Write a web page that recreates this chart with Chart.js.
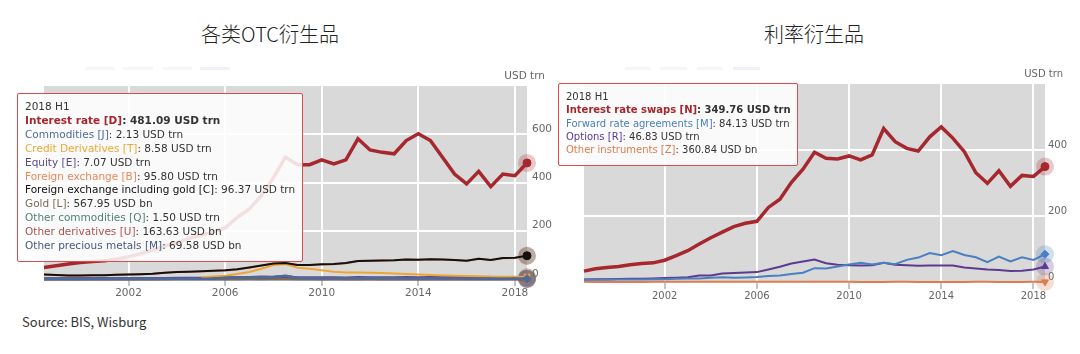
<!DOCTYPE html>
<html>
<head>
<meta charset="utf-8">
<script src="https://cdn.jsdelivr.net/npm/chart.js"></script>
<style>
    body { margin: 0; width: 1080px; height: 354px; background: #fff; position: relative; overflow: hidden; font-family: "DejaVu Sans", sans-serif; }
    canvas { position: absolute; top: 0; }
    .title { position: absolute; top: 20px; font-family: "Noto Sans CJK SC", sans-serif; font-weight: 300; font-size: 20px; line-height: 28px; color: #222; text-align: center; }
    .tip { position: absolute; background: rgba(255, 255, 255, 0.86); border: 1.5px solid #dc4c4c; border-radius: 2px; white-space: nowrap; color: #333; }
    .bar { position: absolute; top: 67px; height: 3px; background: #f6f6f6; }
    .source { position: absolute; left: 22px; top: 312px; font-family: "Noto Sans CJK SC", sans-serif; font-size: 13px; color: #333; }
</style>
</head>
<body>
<div class="title" style="left:0;width:540px">各类OTC衍生品</div>
<div class="title" style="left:548px;width:532px">利率衍生品</div>

<div class="bar" style="left:85px;width:30px"></div>
<div class="bar" style="left:123px;width:30px"></div>
<div class="bar" style="left:163px;width:29px"></div>
<div class="bar" style="left:200px;width:30px;background:#eef1f7"></div>
<div class="bar" style="left:625px;width:26px"></div>
<div class="bar" style="left:660px;width:27px"></div>
<div class="bar" style="left:697px;width:26px"></div>
<div class="bar" style="left:733px;width:27px;background:#eef1f7"></div>

<canvas id="otc-chart" width="560" height="310" style="left:0;width:560px;height:310px"></canvas>
<canvas id="ir-chart" width="540" height="310" style="left:540px;width:540px;height:310px"></canvas>

<div id="otc-tip" class="tip" style="left:17px;top:93px;font-size:10.5px;line-height:13.9px;padding:6px 7px 8px 7px"></div>
<div id="ir-tip" class="tip" style="left:558px;top:83px;font-size:10px;line-height:13.3px;padding:6px 6px 9px 7px"></div>

<div class="source">Source: BIS, Wisburg</div>

<script>
// PERIODS AND AXIS TICKS
// ---------------------------------------------------
const periods = [ '1998 H1', '1998 H2', '1999 H1', '1999 H2', '2000 H1', '2000 H2', '2001 H1', '2001 H2',
    '2002 H1', '2002 H2', '2003 H1', '2003 H2', '2004 H1', '2004 H2', '2005 H1', '2005 H2',
    '2006 H1', '2006 H2', '2007 H1', '2007 H2', '2008 H1', '2008 H2', '2009 H1', '2009 H2',
    '2010 H1', '2010 H2', '2011 H1', '2011 H2', '2012 H1', '2012 H2', '2013 H1', '2013 H2',
    '2014 H1', '2014 H2', '2015 H1', '2015 H2', '2016 H1', '2016 H2', '2017 H1', '2017 H2', '2018 H1' ];
const yearTicks = [ 2002, 2006, 2010, 2014, 2018 ];
const otcTicks = [ 0, 200, 400, 600 ];
const irTicks = [ 0, 200, 400 ];

// OTC DERIVATIVES (USD trn)
// ---------------------------------------------------
const interestRate = [ 48, 55, 62, 68, 72, 76, 82, 92, 105, 120, 137, 150, 168, 182, 195, 212, 255, 290, 345, 420,
    505, 474, 474, 494, 477, 494, 581, 535, 525, 519, 574, 602, 574, 505, 435, 394, 446, 383, 435, 428, 481.09 ];
const commodities = [ 0.45, 0.4, 0.44, 0.5, 0.6, 0.7, 0.6, 0.6, 0.8, 0.9, 1.0, 1.4, 1.3, 1.4, 2.0, 5.4, 6.4, 7.1, 7.6, 8.5,
    13.2, 4.4, 3.6, 2.9, 2.9, 2.9, 3.2, 3.1, 2.9, 2.6, 2.5, 2.2, 2.2, 1.9, 1.7, 1.3, 1.4, 1.4, 1.5, 1.9, 2.13 ];
const credit = [ null, null, null, null, null, null, null, null, null, null, null, null, null, 6.4, 10.2, 13.9, 20.4, 28.7, 42.6, 58.2,
    62, 47, 42, 36, 30, 27, 27, 26, 25, 23, 21, 19, 17, 14.5, 13, 12, 11.8, 9.9, 9.6, 9.4, 8.58 ];
const equity = [ 1.3, 1.5, 1.5, 1.8, 1.6, 1.9, 1.9, 1.9, 2.2, 2.3, 2.8, 3.8, 4.5, 4.4, 4.6, 5.8, 6.8, 7.5, 9.5, 8.5,
    10.2, 6.5, 6.6, 5.9, 6.3, 5.6, 6.8, 6.0, 6.3, 6.3, 6.8, 6.6, 7.1, 6.9, 7.5, 7.1, 6.8, 6.6, 6.8, 6.6, 7.07 ];
const foreignExchange = [ 18.7, 16.7, 14.7, 14.7, 15.7, 15.7, 17.7, 18.7, 19.7, 21.6, 25.6, 28.6, 29.6, 31.6, 33.6, 35.5, 39.5, 47.5, 55.4, 63.4,
    65.3, 57.6, 57.6, 60.5, 61.5, 65.5, 74.4, 75.4, 76.4, 77.4, 80.4, 79.4, 81.4, 80.4, 78.4, 75.4, 83.4, 78.4, 86.4, 87.4, 95.80 ];
const fxInclGold = [ 19, 17, 15, 15, 16, 16, 18, 19, 20, 22, 26, 29, 30, 32, 34, 36, 40, 48, 56, 64,
    66, 58, 58, 61, 62, 66, 75, 76, 77, 78, 81, 80, 82, 81, 79, 76, 84, 79, 87, 88, 96.37 ];
const gold = [ 0.23, 0.2, 0.25, 0.23, 0.24, 0.22, 0.21, 0.23, 0.28, 0.32, 0.33, 0.34, 0.36, 0.37, 0.41, 0.34, 0.46, 0.64, 0.43, 0.6,
    0.65, 0.4, 0.42, 0.42, 0.42, 0.4, 0.47, 0.52, 0.49, 0.49, 0.48, 0.32, 0.34, 0.31, 0.31, 0.35, 0.48, 0.46, 0.42, 0.54, 0.56795 ];
const otherCommodities = [ 0.14, 0.14, 0.13, 0.21, 0.28, 0.39, 0.32, 0.3, 0.42, 0.47, 0.55, 0.91, 0.74, 0.86, 1.39, 4.85, 5.67, 6.3, 6.9, 7.6,
    12.2, 3.8, 3.0, 2.3, 2.3, 2.3, 2.5, 2.4, 2.2, 2.0, 1.9, 1.8, 1.8, 1.5, 1.3, 0.9, 0.87, 0.88, 1.0, 1.3, 1.50 ];
const otherDerivatives = [ 0.31, 0.28, 0.33, 0.3, 0.36, 0.34, 0.41, 0.38, 0.43, 0.47, 0.5, 0.52, 0.58, 0.54, 0.61, 0.63, 0.66, 0.72, 0.77, 0.81,
    0.86, 0.62, 0.57, 0.49, 0.52, 0.44, 0.47, 0.39, 0.41, 0.36, 0.33, 0.31, 0.29, 0.27, 0.25, 0.23, 0.2, 0.19, 0.18, 0.17, 0.16363 ];
const otherPreciousMetals = [ 0.1, 0.1, 0.1, 0.08, 0.14, 0.09, 0.1, 0.12, 0.12, 0.1, 0.1, 0.12, 0.16, 0.18, 0.2, 0.21, 0.27, 0.16, 0.2, 0.3,
    0.35, 0.2, 0.2, 0.15, 0.17, 0.19, 0.21, 0.2, 0.2, 0.12, 0.13, 0.12, 0.08, 0.08, 0.07, 0.07, 0.07, 0.08, 0.08, 0.09, 0.06958 ];

// INTEREST RATE DERIVATIVES (USD trn)
// ---------------------------------------------------
const swaps = [ 33, 40, 44, 47, 52, 56, 58, 66, 80, 95, 115, 134, 151, 168, 178, 184, 226, 251, 302, 342,
    393, 375, 373, 382, 370, 385, 465, 425, 405, 397, 440, 470, 436, 395, 331, 299, 337, 290, 323, 320, 349.76 ];
const fras = [ 7, 7, 7, 7.5, 7.8, 7.4, 8.5, 8.7, 9.6, 10.5, 10.8, 13, 14.4, 13, 14, 15.5, 18.5, 20, 24, 28,
    42, 41, 47, 53, 58, 53, 58, 54, 67, 74, 88, 81, 94, 82, 75, 60, 77, 62, 75, 67, 84.13 ];
const options = [ 7.5, 8, 8.4, 9.4, 10, 9.7, 10.7, 12, 13.1, 14.4, 20, 20, 26, 27.1, 28.6, 30, 38, 46, 56, 62,
    68, 57, 52, 51, 50, 51, 58, 52, 51, 49, 50, 50, 50, 44, 41, 38, 36, 33, 34, 38, 46.83 ];
const otherInstruments = [ 0.4, 0.3, 0.3, 0.3, 0.3, 0.3, 0.4, 0.4, 0.5, 0.5, 0.6, 0.6, 0.7, 0.8, 0.9, 1.0, 1.1, 0.9, 0.8, 0.6,
    0.5, 0.4, 0.4, 0.4, 0.3, 0.3, 0.3, 0.4, 0.4, 0.3, 0.3, 0.3, 0.3, 0.3, 0.4, 0.4, 0.3, 0.3, 0.3, 0.4, 0.36084 ];

// HELPERS
// ---------------------------------------------------
const lastIndex = periods.length - 1;
function periodToYear( p ) {
    const parts = p.split( ' ' );
    return Number( parts[ 0 ] ) + ( parts[ 1 ] === 'H1' ? 0.5 : 1 );
}
function toPoints( values ) {
    return values.map( ( v, i ) => ({ x: periodToYear( periods[ i ] ), y: v }) );
}
function formatValue( v ) {
    return v >= 1 ? v.toFixed( 2 ) + ' USD trn' : ( v * 1000 ).toFixed( 2 ) + ' USD bn';
}
function series( label, values, color, width, style, rotation, order ) {
    return {
        label: label,
        data: toPoints( values ),
        borderColor: color,
        backgroundColor: color,
        borderWidth: width,
        tension: 0,
        clip: false,
        order: order || 0,
        pointStyle: style,
        pointRotation: rotation || 0,
        pointRadius: ctx => ctx.dataIndex === lastIndex ? 4 : 0,
        pointHoverRadius: ctx => ctx.dataIndex === lastIndex ? 4 : 0,
        pointBorderColor: color,
        pointBorderWidth: 1
    };
}

// PLUGINS
// ---------------------------------------------------
const plotBackground = {
    id: 'plotBackground',
    beforeDraw( chart ) {
        const a = chart.chartArea;
        chart.ctx.save();
        chart.ctx.fillStyle = '#d9d9d9';
        chart.ctx.fillRect( a.left, a.top, a.right - a.left, a.bottom - a.top );
        chart.ctx.restore();
    }
};
const halo = {
    id: 'halo',
    beforeDatasetsDraw( chart ) {
        const ctx = chart.ctx;
        chart.data.datasets.forEach( ( ds, i ) => {
            const pt = chart.getDatasetMeta( i ).data[ lastIndex ];
            if ( !pt || ds.data[ lastIndex ].y === null ) return;
            ctx.save();
            ctx.globalAlpha = 0.25;
            ctx.fillStyle = ds.borderColor;
            ctx.beginPath();
            ctx.arc( pt.x, pt.y, 9, 0, Math.PI * 2 );
            ctx.fill();
            ctx.restore();
        });
    }
};
const unitLabel = {
    id: 'unitLabel',
    afterDraw( chart, args, opts ) {
        const a = chart.chartArea;
        const ctx = chart.ctx;
        ctx.save();
        ctx.font = opts.size + 'px "DejaVu Sans"';
        ctx.fillStyle = '#666';
        ctx.textAlign = 'right';
        ctx.textBaseline = 'middle';
        ctx.fillText( opts.text, a.right + 18, a.top - 10 );
        ctx.restore();
    }
};

// HTML TOOLTIP
// ---------------------------------------------------
function tooltipRenderer( el ) {
    return function ( context ) {
        const tip = context.tooltip;
        const items = tip.dataPoints || [];
        let html = '<div>' + ( tip.title || [] ).join( '' ) + '</div>';
        items.forEach( ( it, k ) => {
            const ds = it.dataset;
            const line = '<span style="color:' + ds.borderColor + '">' + ds.label + '</span>: ' + formatValue( it.parsed.y );
            html += '<div' + ( k === 0 ? ' style="font-weight:bold"' : '' ) + '>' + line + '</div>';
        });
        el.innerHTML = html;
    };
}

// CHART FACTORY
// ---------------------------------------------------
function makeChart( canvas, datasets, cfg ) {
    const chart = new Chart( canvas, {
        type: 'line',
        data: { datasets: datasets },
        plugins: [ plotBackground, halo, unitLabel ],
        options: {
            responsive: false,
            animation: false,
            events: [],
            layout: { padding: { left: cfg.left, top: cfg.top, right: 0, bottom: 0 } },
            plugins: {
                legend: { display: false },
                unitLabel: { text: 'USD trn', size: cfg.font },
                tooltip: {
                    enabled: false,
                    mode: 'index',
                    intersect: false,
                    external: tooltipRenderer( cfg.tipEl ),
                    callbacks: {
                        title: items => periods[ items[ 0 ].dataIndex ]
                    }
                }
            },
            scales: {
                x: {
                    type: 'linear',
                    min: periodToYear( periods[ 0 ] ),
                    max: periodToYear( periods[ lastIndex ] ),
                    afterBuildTicks: s => { s.ticks = yearTicks.map( v => ({ value: v }) ); },
                    afterFit: s => { s.height = cfg.xHeight; },
                    border: { display: false },
                    grid: { color: '#ffffff', lineWidth: 2, tickColor: '#8a8a8a', tickLength: 7, tickWidth: 1 },
                    ticks: {
                        autoSkip: false, maxRotation: 0, padding: 1, color: '#666',
                        font: { family: 'DejaVu Sans', size: cfg.font },
                        callback: v => String( v )
                    }
                },
                y: {
                    position: 'right',
                    min: 0,
                    max: cfg.yMax,
                    afterBuildTicks: s => { s.ticks = cfg.yTicks.map( v => ({ value: v }) ); },
                    afterFit: s => { s.width = cfg.yWidth; },
                    border: { display: false },
                    grid: { color: '#ffffff', lineWidth: 2, drawTicks: false },
                    ticks: {
                        padding: cfg.yPad, labelOffset: -5, color: '#666',
                        font: { family: 'DejaVu Sans', size: cfg.font },
                        callback: v => String( v )
                    }
                }
            }
        }
    });
    const active = datasets.map( ( d, i ) => ({ datasetIndex: i, index: lastIndex }) );
    chart.tooltip.setActiveElements( active, { x: 0, y: 0 } );
    chart.update( 'none' );
    return chart;
}

window.addEventListener( 'load', function () {
    // OTC CHART
    // -------------------------------------------------------
    makeChart( document.querySelector( '#otc-chart' ), [
        series( 'Interest rate [D]', interestRate, '#a6272d', 3.5, 'circle' ),
        series( 'Commodities [J]', commodities, '#4f6a9a', 2.5, 'rectRot' ),
        series( 'Credit Derivatives [T]', credit, '#f0a532', 2, 'rect' ),
        series( 'Equity [E]', equity, '#5a4a8c', 2.5, 'triangle' ),
        series( 'Foreign exchange [B]', foreignExchange, '#e8875a', 2, 'triangle', 180 ),
        series( 'Foreign exchange including gold [C]', fxInclGold, '#111111', 2, 'circle', 0, -1 ),
        series( 'Gold [L]', gold, '#7d6a55', 2.5, 'rectRot' ),
        series( 'Other commodities [Q]', otherCommodities, '#4f8278', 2.5, 'rect' ),
        series( 'Other derivatives [U]', otherDerivatives, '#b0504a', 2.5, 'triangle' ),
        series( 'Other precious metals [M]', otherPreciousMetals, '#46597e', 3, 'triangle', 180 )
    ], {
        left: 44, top: 86, xHeight: 31, yWidth: 33, yPad: 5, yMax: 800, yTicks: otcTicks,
        font: 10.5, tipEl: document.querySelector( '#otc-tip' )
    });
    // INTEREST RATE CHART
    // -------------------------------------------------------
    makeChart( document.querySelector( '#ir-chart' ), [
        series( 'Interest rate swaps [N]', swaps, '#a6272d', 3.5, 'circle' ),
        series( 'Forward rate agreements [M]', fras, '#4a7fc0', 2, 'rectRot' ),
        series( 'Options [R]', options, '#5d3a8e', 2, 'triangle' ),
        series( 'Other instruments [Z]', otherInstruments, '#e07b4b', 2, 'triangle', 180 )
    ], {
        left: 44, top: 84, xHeight: 28, yWidth: 35, yPad: 3, yMax: 600, yTicks: irTicks,
        font: 10, tipEl: document.querySelector( '#ir-tip' )
    });
}, false );
</script>
</body>
</html>
